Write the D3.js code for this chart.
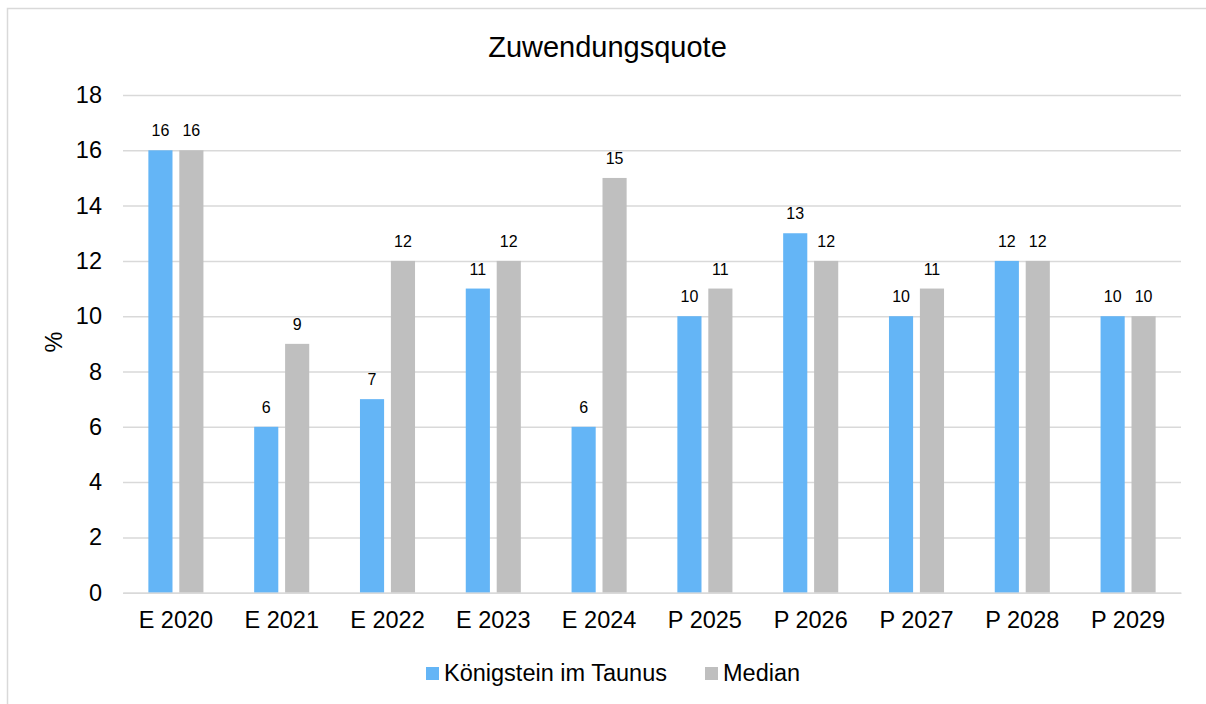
<!DOCTYPE html>
<html><head><meta charset="utf-8">
<script src="https://cdn.jsdelivr.net/npm/d3@7"></script>
<style>
html,body{margin:0;padding:0;background:#fff;overflow:hidden;}
svg{display:block;font-family:"Liberation Sans",Arial,sans-serif;}
</style></head>
<body>
<svg id="c" width="1206" height="704"></svg>
<script>
const categories = ["E 2020","E 2021","E 2022","E 2023","E 2024","P 2025","P 2026","P 2027","P 2028","P 2029"];
const seriesNames = ["Königstein im Taunus","Median"];
const koenigstein = [16,6,7,11,6,10,13,10,12,10];
const median = [16,9,12,12,15,11,12,11,12,10];
const yTicks = [0,2,4,6,8,10,12,14,16,18];
const colors = ["#64b5f6","#bfbfbf"];
const title = "Zuwendungsquote";
const yLabel = "%";

const svg = d3.select("#c");
const m = {left:123, right:1181, top:95, bottom:592.7};

// frame (left and top edges only visible)
svg.append("rect").attr("x",7.5).attr("y",8.5).attr("width",1400).attr("height",900)
  .attr("fill","#fff").attr("stroke","#d9d9d9").attr("stroke-width",1.5);

const x0 = d3.scaleBand().domain(categories).range([m.left,m.right]).paddingInner(0).paddingOuter(0);
const x1 = d3.scaleBand().domain(seriesNames).range([0,x0.bandwidth()]).paddingInner(0.22).paddingOuter(0.82);
const y = d3.scaleLinear().domain([0,18]).range([m.bottom,m.top]);

// gridlines
const yAxis = d3.axisLeft(y).tickValues(yTicks).tickSize(-(m.right-m.left)).tickPadding(21).tickFormat(d3.format("d"));
const gy = svg.append("g").attr("transform",`translate(${m.left},0)`).call(yAxis);
gy.select(".domain").remove();
gy.selectAll(".tick line").attr("stroke","#d9d9d9").attr("stroke-width",1.5);
gy.selectAll(".tick text").attr("font-size","23.5px").attr("fill","#000").attr("font-family","Liberation Sans, Arial, sans-serif");

// bars
const data = categories.map((c,i)=>({cat:c, vals:[koenigstein[i],median[i]]}));
const groups = svg.append("g").selectAll("g").data(data).join("g")
  .attr("transform",d=>`translate(${x0(d.cat)},0)`);
groups.selectAll("rect").data(d=>d.vals.map((v,j)=>({name:seriesNames[j],v,j}))).join("rect")
  .attr("x",d=>x1(d.name)).attr("width",x1.bandwidth())
  .attr("y",d=>y(d.v)).attr("height",d=>y(0)-y(d.v))
  .attr("fill",d=>colors[d.j]);
groups.selectAll("text").data(d=>d.vals.map((v,j)=>({name:seriesNames[j],v,j}))).join("text")
  .attr("x",d=>x1(d.name)+x1.bandwidth()/2).attr("y",d=>y(d.v)-14)
  .attr("text-anchor","middle").attr("font-size","16px").attr("fill","#000")
  .text(d=>d.v);

// x axis
const xAxis = d3.axisBottom(x0).tickSize(0).tickPadding(0);
const gx = svg.append("g").attr("transform",`translate(0,${m.bottom})`).call(xAxis);
gx.select(".domain").attr("stroke","#d9d9d9").attr("stroke-width",1.5);
gx.selectAll(".tick text").attr("font-size","23.5px").attr("fill","#000")
  .attr("font-family","Liberation Sans, Arial, sans-serif").attr("dy",null).attr("y",35.5);

// title
svg.append("text").attr("x",607.5).attr("y",56.7).attr("text-anchor","middle")
  .attr("font-size","29px").attr("fill","#000").text(title);

// y label
svg.append("text").attr("transform","translate(62,342) rotate(-90)").attr("text-anchor","middle")
  .attr("font-size","23.5px").attr("fill","#000").text(yLabel);

// legend
const legendX = [426,705];
const lg = svg.append("g").selectAll("g").data(seriesNames).join("g")
  .attr("transform",(d,i)=>`translate(${legendX[i]},667)`);
lg.append("rect").attr("width",13).attr("height",13).attr("fill",(d,i)=>colors[i]);
lg.append("text").attr("x",18).attr("y",13.7).attr("font-size","23.5px").attr("fill","#000").text(d=>d);
</script>
</body></html>
